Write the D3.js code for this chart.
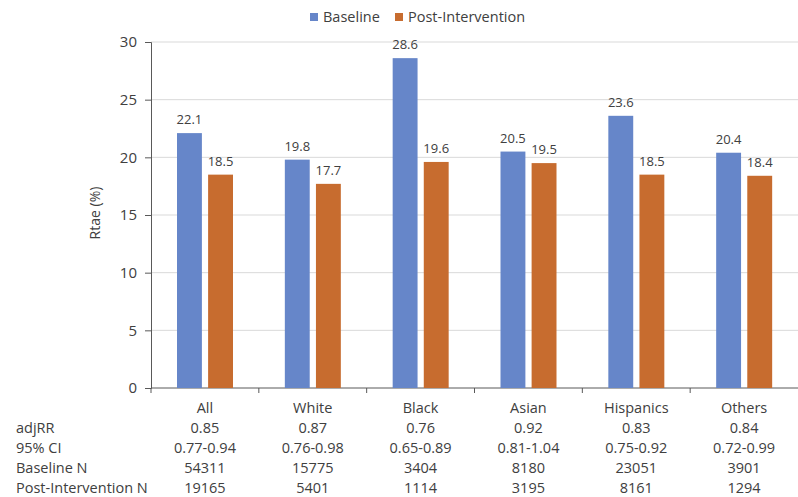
<!DOCTYPE html>
<html>
<head>
<meta charset="utf-8">
<script src="https://cdn.jsdelivr.net/npm/d3@7"></script>
<style>
body { margin: 0; background: #fff; }
text { font-family: "Open Sans", "Liberation Sans", sans-serif; fill: #404040; }
</style>
</head>
<body>
<div id="chart"></div>
<script>
// data
var groups = ["All", "White", "Black", "Asian", "Hispanics", "Others"];
var baseline = [22.1, 19.8, 28.6, 20.5, 23.6, 20.4];
var postInt = [18.5, 17.7, 19.6, 19.5, 18.5, 18.4];
var seriesNames = ["Baseline", "Post-Intervention"];
var rowLabels = ["adjRR", "95% CI", "Baseline N", "Post-Intervention N"];
var adjRR = ["0.85", "0.87", "0.76", "0.92", "0.83", "0.84"];
var ci95 = ["0.77-0.94", "0.76-0.98", "0.65-0.89", "0.81-1.04", "0.75-0.92", "0.72-0.99"];
var baseN = ["54311", "15775", "3404", "8180", "23051", "3901"];
var postN = ["19165", "5401", "1114", "3195", "8161", "1294"];
var yTicks = [0, 5, 10, 15, 20, 25, 30];

var width = 798, height = 497;
var mLeft = 151, mRight = 798, mTop = 42, mBottom = 388;
var colors = ["#6686c9", "#c76c2f"];

var svg = d3.select("#chart").append("svg")
    .attr("width", width).attr("height", height);

var x = d3.scaleBand().domain(groups).range([mLeft, mRight]);
var xSub = d3.scaleBand().domain(seriesNames).range([26, 82]).paddingInner(0.2);
var y = d3.scaleLinear().domain([0, 30]).range([mBottom, mTop]);

// gridlines
svg.append("g").selectAll("line").data(yTicks.slice(1)).enter().append("line")
    .attr("x1", mLeft).attr("x2", mRight)
    .attr("y1", function(d) { return y(d); }).attr("y2", function(d) { return y(d); })
    .attr("stroke", "#d9d9d9").attr("stroke-width", 1);

// y axis
var yAxis = svg.append("g").attr("transform", "translate(" + mLeft + ",0)")
    .call(d3.axisLeft(y).tickValues(yTicks).tickSize(6).tickPadding(8));
yAxis.select(".domain").attr("stroke", "#595959");
yAxis.selectAll(".tick line").attr("stroke", "#595959");
yAxis.selectAll("text").attr("font-size", "15px").style("fill", "#404040")
    .attr("font-family", "Open Sans, sans-serif");

svg.append("text")
    .attr("transform", "translate(100,213) rotate(-90)")
    .attr("text-anchor", "middle").attr("font-size", "14px")
    .text("Rtae (%)");

// x axis with ticks at category boundaries
svg.append("line").attr("x1", mLeft).attr("x2", mRight).attr("y1", mBottom).attr("y2", mBottom)
    .attr("stroke", "#595959");
svg.append("g").selectAll("line").data(groups).enter().append("line")
    .attr("x1", function(d) { return x(d); }).attr("x2", function(d) { return x(d); })
    .attr("y1", mBottom).attr("y2", mBottom + 5)
    .attr("stroke", "#595959");

// bars
var series = [baseline, postInt];
var g = svg.append("g").selectAll("g").data(groups).enter().append("g")
    .attr("transform", function(d) { return "translate(" + x(d) + ",0)"; });

seriesNames.forEach(function(s, si) {
    g.append("rect")
        .attr("x", xSub(s))
        .attr("width", xSub.bandwidth())
        .attr("y", function(d, i) { return y(series[si][i]); })
        .attr("height", function(d, i) { return mBottom - y(series[si][i]); })
        .attr("fill", colors[si]);
    g.append("text")
        .attr("x", xSub(s) + xSub.bandwidth() / 2)
        .attr("y", function(d, i) { return y(series[si][i]) - 9; })
        .attr("text-anchor", "middle").attr("font-size", "13px")
        .text(function(d, i) { return series[si][i].toFixed(1); });
});

// table under the axis
var rows = [groups, adjRR, ci95, baseN, postN];
var rowY = [413, 433, 453, 473, 493];
rows.forEach(function(r, ri) {
    svg.append("g").selectAll("text").data(r).enter().append("text")
        .attr("x", function(d, i) { return x(groups[i]) + x.bandwidth() / 2; })
        .attr("y", rowY[ri])
        .attr("text-anchor", "middle").attr("font-size", "14.5px")
        .text(function(d) { return d; });
});
svg.append("g").selectAll("text").data(rowLabels).enter().append("text")
    .attr("x", 16).attr("y", function(d, i) { return rowY[i + 1]; })
    .attr("font-size", "14.5px")
    .text(function(d) { return d; });

// legend
var legX = [310, 395];
var leg = svg.append("g").selectAll("g").data(seriesNames).enter().append("g")
    .attr("transform", function(d, i) { return "translate(" + legX[i] + ",13)"; });
leg.append("rect").attr("width", 8).attr("height", 8)
    .attr("fill", function(d, i) { return colors[i]; });
leg.append("text").attr("x", 13).attr("y", 9).attr("font-size", "14.5px")
    .text(function(d) { return d; });
</script>
</body>
</html>
